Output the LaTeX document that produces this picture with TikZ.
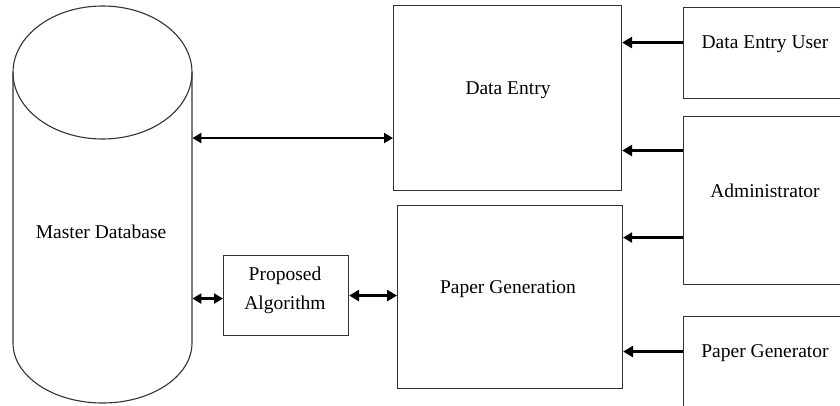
\documentclass[tikz,border=0pt]{standalone}
\usepackage{fontspec}
\setmainfont{Liberation Serif}
\usetikzlibrary{arrows.meta}
\begin{document}
\begin{tikzpicture}[x=1pt,y=-1pt,
  box/.style={draw=black!80, line width=1.1pt, inner sep=0pt, anchor=north west},
  lbl/.style={font=\fontsize{19.5}{29}\selectfont, align=center, inner sep=0pt},
  thickarr/.style={line width=3.4pt, -{Triangle[length=10pt,width=11pt]}},
  midarr/.style={line width=2.6pt, -{Triangle[length=9pt,width=10pt]}},
  dblarr/.style={line width=2.6pt, {Triangle[length=9pt,width=10pt]}-{Triangle[length=9pt,width=10pt]}},
  dblthick/.style={line width=3.2pt, {Triangle[length=10pt,width=11pt]}-{Triangle[length=10pt,width=11pt]}}]
\useasboundingbox (0,0) rectangle (840,405);
\fill[white] (0,0) rectangle (840,405);

% cylinder
\draw[black!80, line width=1.1pt] (13,72.5) -- (13,343)
   arc[start angle=180, end angle=0, x radius=89.5, y radius=60] -- (192,72.5);
\draw[black!80, line width=1.1pt] (102.5,72.5) ellipse [x radius=89.5, y radius=66.5];
\node[inner sep=0pt, minimum width=179pt, minimum height=270pt, anchor=north west] (db) at (13,72.5) {};
\node[lbl] (dbt) at (101,232) {Master Database};

% boxes
\node[box, minimum width=228pt, minimum height=185pt] (de) at (393,5) {};
\node[lbl] (det) at (508,90) {Data Entry};
\node[box, minimum width=225pt, minimum height=183pt] (pg) at (397,205) {};
\node[lbl] (pgt) at (508,289) {Paper Generation};
\node[box, minimum width=125pt, minimum height=80pt] (pa) at (223,255) {};
\node[lbl] (pat) at (285,290) {Proposed\\Algorithm};
\node[box, minimum width=170pt, minimum height=91pt] (deu) at (683,7) {};
\node[lbl] (deut) at (765,44) {Data Entry User};
\node[box, minimum width=170pt, minimum height=168pt] (adm) at (683,116) {};
\node[lbl] (admt) at (765,191) {Administrator};
\node[box, minimum width=170pt, minimum height=100pt] (pgn) at (683,316) {};
\node[lbl] (pgnt) at (765,353) {Paper Generator};

% connectors
\coordinate (a1) at ([yshift=10.5pt]deu.west);
\draw[thickarr] (a1) -- (a1 -| de.east);
\coordinate (a2) at ([yshift=50pt]adm.west);
\draw[thickarr] (a2) -- (a2 -| de.east);
\coordinate (a3) at ([yshift=-37pt]adm.west);
\draw[midarr] (a3) -- (a3 -| pg.east);
\coordinate (a4) at ([yshift=15pt]pgn.west);
\draw[thickarr] (a4) -- (a4 -| pg.east);
\coordinate (a5) at ([yshift=-40pt]de.west);
\draw[dblarr] (a5) -- (a5 -| db.east);
\coordinate (a6) at ([yshift=-3pt]pa.west);
\draw[dblarr] (a6) -- (a6 -| db.east);
\coordinate (a7) at ([yshift=0pt]pa.east);
\draw[dblthick] (a7) -- (a7 -| pg.west);
\end{tikzpicture}
\end{document}
